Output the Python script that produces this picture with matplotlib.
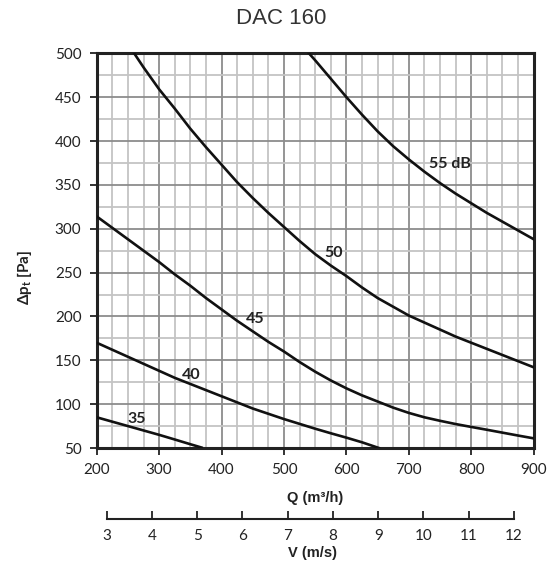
import matplotlib
matplotlib.use("Agg")
import matplotlib.pyplot as plt
from matplotlib.ticker import MultipleLocator

# curves: flow Q (m3/h) vs total pressure drop (Pa)
q55 = [540, 550, 575, 600, 625, 650, 675, 700, 725, 750, 775, 800, 825, 850, 875, 900]
p55 = [500, 492, 471, 450, 430, 411, 394, 379, 365, 352, 340, 329, 318, 308, 298, 288]

q50 = [260, 275, 300, 325, 350, 375, 400, 425, 450, 475, 500, 525, 550, 575, 600,
       625, 650, 675, 700, 725, 750, 775, 800, 825, 850, 875, 900]
p50 = [500, 484, 459, 437, 414, 393, 373, 353, 335, 318, 302, 286, 271, 258, 246,
       233, 221, 211, 201, 193, 185, 177, 170, 163, 156, 149, 142]

q45 = [200, 225, 250, 275, 300, 325, 350, 375, 400, 425, 450, 475, 500, 525, 550,
       575, 600, 625, 650, 675, 700, 725, 750, 775, 800, 825, 850, 875, 900]
p45 = [314, 301, 288, 275, 262, 248, 235, 221, 208, 195, 183, 171, 160, 148, 137,
       127, 118, 110, 103, 96, 90, 85, 81, 77.3, 74, 70.8, 67.5, 64.2, 61]

q40 = [200, 225, 250, 275, 300, 325, 350, 375, 400, 425, 450, 475, 500, 525, 550,
       575, 600, 625, 652]
p40 = [170, 162, 154, 146, 138, 130, 123, 116, 109, 102, 95, 89, 83, 77.5, 72,
       66.8, 61.8, 56.5, 50]

q35 = [200, 225, 250, 275, 300, 325, 350, 368]
p35 = [85, 80, 75, 70, 65, 59.7, 54.3, 50.5]

curves = [(q35, p35), (q40, p40), (q45, p45), (q50, p50), (q55, p55)]
curveLabels = ["35", "40", "45", "50", "55 dB"]
labelQ = [264, 352, 454, 579, 766]
labelP = [83, 133, 197, 272, 374]

qTicks = [200, 300, 400, 500, 600, 700, 800, 900]
pTicks = [50, 100, 150, 200, 250, 300, 350, 400, 450, 500]
vTicks = [3, 4, 5, 6, 7, 8, 9, 10, 11, 12]

W, H = 558, 568
tickFont = ["Lato", "DejaVu Sans"]
plt.rcParams["mathtext.fontset"] = "custom"
plt.rcParams["mathtext.bf"] = "Lato:bold"
plt.rcParams["mathtext.rm"] = "Lato:bold"

fig = plt.figure(figsize=(W / 100, H / 100), dpi=100)
ax = fig.add_axes([96.7 / W, (H - 448) / H, 437 / W, 394.7 / H])

for q, p in curves:
    ax.plot(q, p, color="#111111", lw=1.9, solid_joinstyle="round", zorder=3)

for txt, x, y in zip(curveLabels, labelQ, labelP):
    ax.text(x, y, txt, ha="center", va="center", fontsize=11.5, fontweight="bold",
            family=tickFont, color="#222222", zorder=4)

ax.set_xlim(200, 900)
ax.set_ylim(50, 500)
ax.set_xticks(qTicks)
ax.set_yticks(pTicks)
ax.xaxis.set_minor_locator(MultipleLocator(25))
ax.yaxis.set_minor_locator(MultipleLocator(25))
ax.grid(which="minor", color="#c4c4c4", lw=1.3, zorder=0)
ax.grid(which="major", color="#8c8c8c", lw=1.3, zorder=1)
ax.set_axisbelow(True)
ax.tick_params(which="minor", length=0)
ax.tick_params(which="major", length=5, width=1.3, color="#222222", pad=6,
               labelsize=11, labelcolor="#222222")
for lab in ax.get_xticklabels() + ax.get_yticklabels():
    lab.set_family(tickFont)
for s in ax.spines.values():
    s.set_linewidth(2.2)
    s.set_color("#222222")

# velocity scale below the plot
ax2 = fig.add_axes([106.7 / W, (H - 519) / H, (514 - 106.7) / W, 0.0001])
ax2.set_xlim(3, 12)
ax2.set_xticks(vTicks)
ax2.set_yticks([])
for side in ["left", "right", "top"]:
    ax2.spines[side].set_visible(False)
ax2.spines["bottom"].set_linewidth(1.5)
ax2.spines["bottom"].set_color("#222222")
ax2.tick_params(axis="x", direction="in", length=6, width=1.3, color="#222222",
                pad=7, labelsize=11, labelcolor="#222222")
for lab in ax2.get_xticklabels():
    lab.set_family(tickFont)
ax2.patch.set_visible(False)

fig.text(281.5 / W, 1 - 18.7 / H, "DAC 160", ha="center", va="center",
         fontsize=16, family="Liberation Sans", color="#333333")
fig.text(315 / W, 1 - 498 / H, "Q (m³/h)", ha="center", va="center",
         fontsize=10.5, fontweight="bold", family="Liberation Sans", color="#222222")
fig.text(313 / W, 1 - 553 / H, "V (m/s)", ha="center", va="center",
         fontsize=10.5, fontweight="bold", family="Liberation Sans", color="#222222")
fig.text(25 / W, 1 - 277 / H, r"Δp$_\mathbf{t}$ [Pa]", ha="center", va="center",
         rotation=90, fontsize=11, fontweight="bold", family=tickFont, color="#222222")

fig.savefig("out.png", dpi=100)
